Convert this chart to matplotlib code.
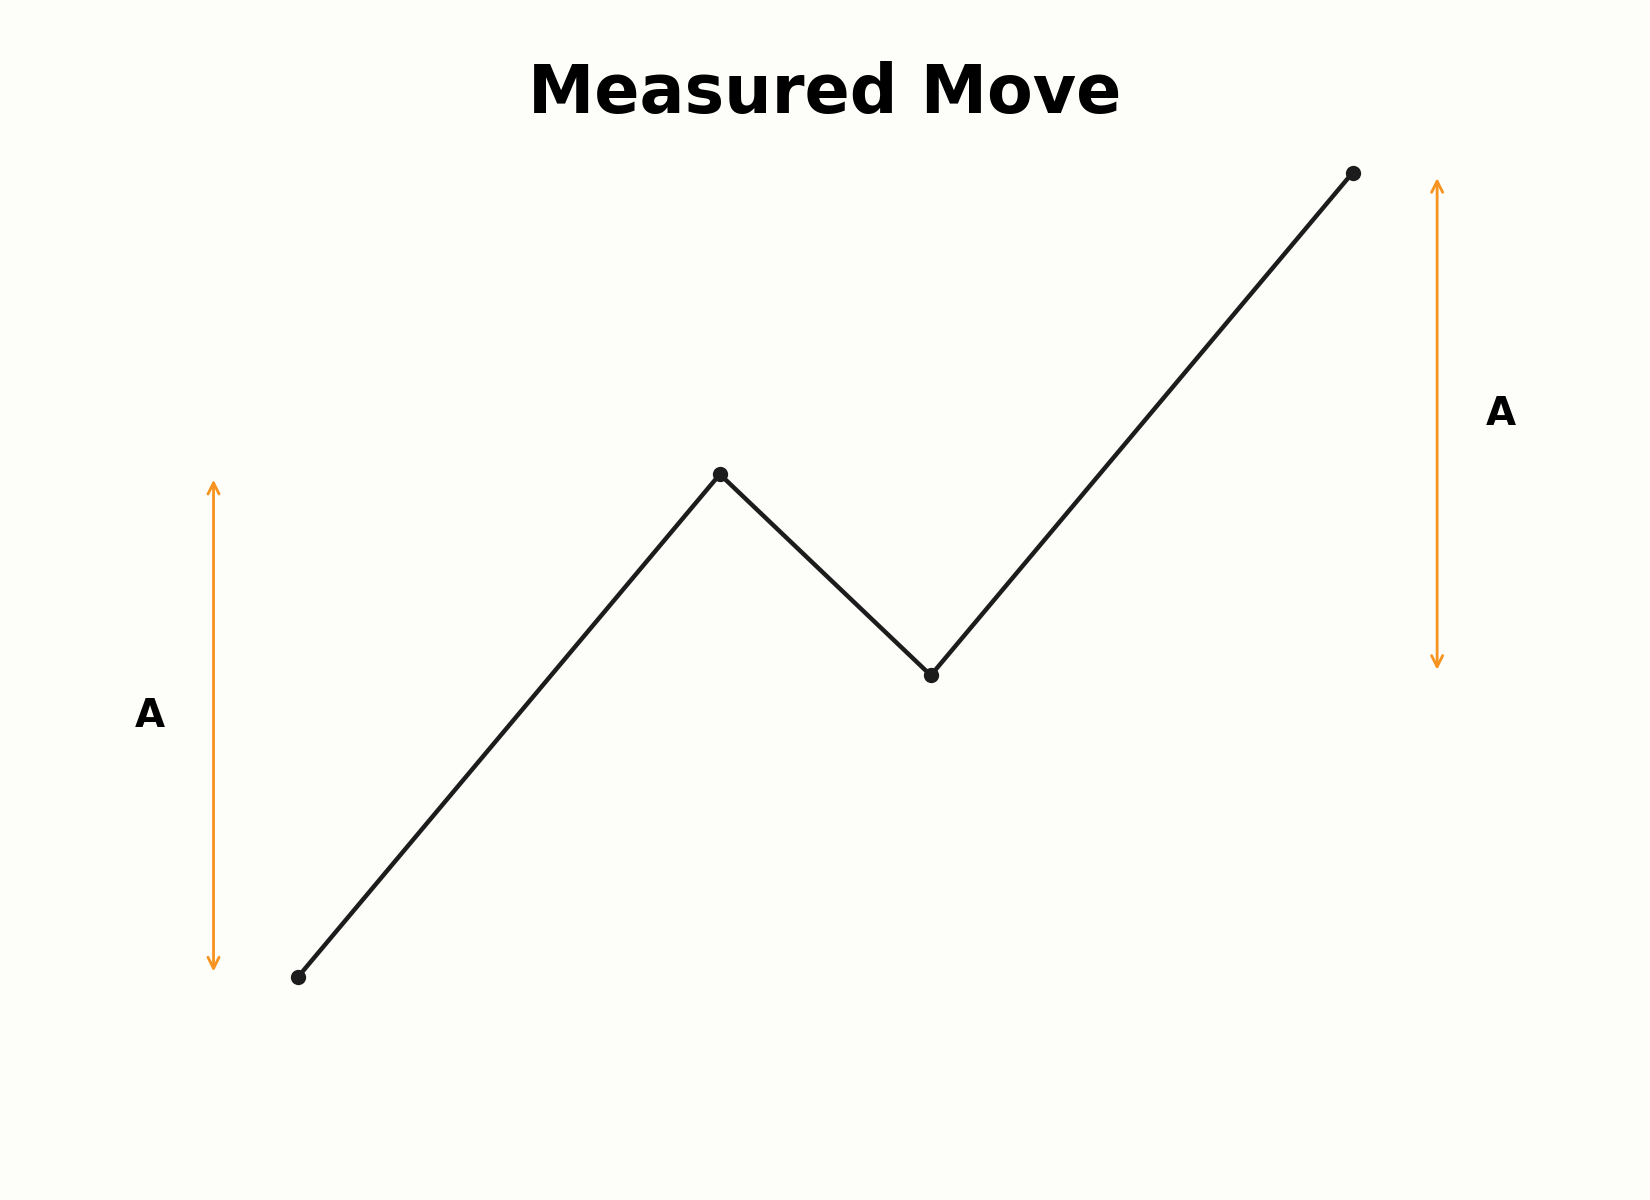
import matplotlib
matplotlib.use("Agg")
import matplotlib.pyplot as plt

# swing points of the pattern
x_pts = [0, 2, 3, 5]
y_pts = [0, 5, 3, 8]

# measured legs: (x, y_start, y_end, label_x, label_y)
legs = [
    (-0.4, 0, 5, -0.7, 2.6),
    (5.4, 3, 8, 5.7, 5.6),
]
leg_label = "A"

bg = "#FDFDF9"
line_col = "#1c1c1c"
arrow_col = "#F7931E"

fig = plt.figure(figsize=(8.25, 6), dpi=200, facecolor=bg)
ax = fig.add_axes([0.0527, 0.102, 0.895, 0.838])
ax.set_facecolor(bg)

ax.plot(x_pts, y_pts, color=line_col, linewidth=1.6, marker="o", markersize=4.5)

for lx, y0, y1, tx, ty in legs:
    ax.annotate("", xy=(lx, y1), xytext=(lx, y0),
                arrowprops=dict(arrowstyle="<->", color=arrow_col, lw=1.0))
    ax.text(tx, ty, leg_label, fontsize=14, fontweight="bold",
            ha="center", va="center")

ax.set_xlim(-1, 6)
ax.set_ylim(-1, 9)
ax.axis("off")

fig.suptitle("Measured Move", fontsize=24, fontweight="bold", y=0.9215, va="center")

fig.savefig("out.png", dpi=200, facecolor=bg)
